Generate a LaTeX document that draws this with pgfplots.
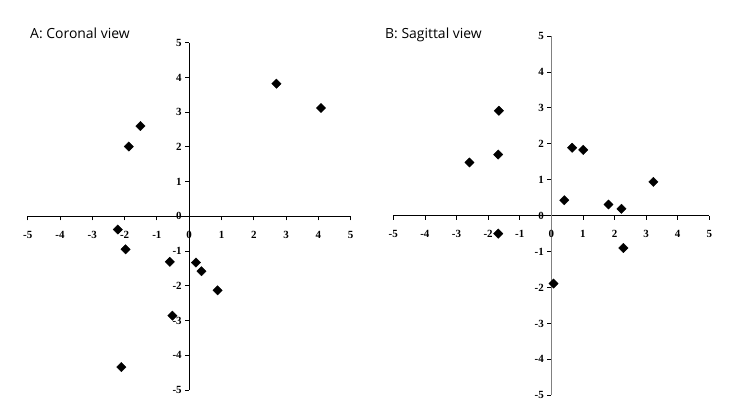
\documentclass[border=0pt]{standalone}
\usepackage{fontspec}
\setmainfont{Liberation Serif}
\newfontfamily\titlefont{Open Sans}
\usepackage{pgfplots}
\pgfplotsset{compat=1.18}
\begin{document}
\begin{tikzpicture}
\useasboundingbox (0,0) rectangle (729bp,412bp);
\pgfplotsset{
  quad/.style={
    axis lines=middle,
    axis line style={-,black,line width=0.8bp},
    scale only axis, anchor=south west, clip=false,
    xmin=-5, xmax=5, ymin=-5, ymax=5,
    xtick={-5,...,5}, ytick={-5,...,5},
    xticklabels={-5,-4,-3,-2,-1,0,1,2,3,4,5},
    yticklabels={-5,-4,-3,-2,-1,0,1,2,3,4,5},
    hide obscured x ticks=false, hide obscured y ticks=false,
    tick align=outside, major tick length=4bp,
    tick style={black,line width=0.8bp},
    ticklabel style={font=\bfseries\fontsize{11}{11}\selectfont},
    xticklabel style={yshift=-7bp},
  },
  pts/.style={only marks, mark=square*, mark size=3.3bp,
    mark options={rotate=45, fill=black, draw=black}},
}
% A: coronal view
\begin{axis}[quad, at={(27.7bp,22bp)}, width=323bp, height=347.3bp]
\addplot[pts] coordinates {
  (2.70,3.82) (4.08,3.12) (-1.51,2.60) (-1.87,2.01)
  (-2.21,-0.38) (-1.97,-0.95) (-0.60,-1.31) (0.21,-1.33)
  (0.38,-1.58) (0.88,-2.13) (-0.52,-2.86) (-2.10,-4.34)
};
\end{axis}
% B: sagittal view
\begin{axis}[quad, at={(393.3bp,16.7bp)}, width=316bp, height=359.3bp,
  y axis line style={gray}]
\addplot[pts] coordinates {
  (-1.66,2.92) (-2.59,1.48) (-1.68,1.70) (0.66,1.89)
  (1.01,1.83) (3.23,0.94) (0.41,0.43) (1.81,0.31)
  (2.22,0.19) (-1.68,-0.50) (2.28,-0.90) (0.07,-1.89)
};
\end{axis}
\node[anchor=base west, inner sep=0pt, font=\titlefont\fontsize{14}{15}\selectfont] at (30bp,373bp) {A: Coronal view};
\node[anchor=base west, inner sep=0pt, font=\titlefont\fontsize{14}{15}\selectfont] at (385bp,373bp) {B: Sagittal view};
\end{tikzpicture}
\end{document}
